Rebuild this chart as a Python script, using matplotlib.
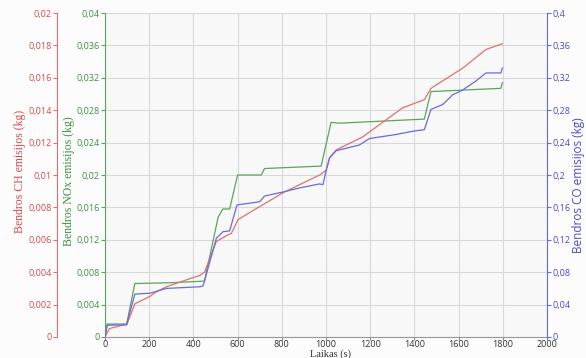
import matplotlib
matplotlib.use("Agg")
import matplotlib.pyplot as plt
from matplotlib.ticker import FixedLocator, FuncFormatter
import numpy as np

# Time axis (s) and cumulative emissions
nox_t = [0, 10, 98, 135, 300, 450, 512, 533, 564, 600, 707, 722, 978, 1023, 1061, 1445, 1475, 1791, 1798]
nox_v = [0, 0.0016, 0.0016, 0.0066, 0.0067, 0.0069, 0.0148, 0.0158, 0.0158, 0.0200, 0.0200, 0.0208, 0.0211, 0.0265, 0.0264, 0.0269, 0.0303, 0.0307, 0.0314]

ch_t = [0, 20, 100, 135, 203, 233, 278, 384, 429, 450, 504, 549, 572, 602, 700, 805, 880, 971, 1001, 1016, 1046, 1166, 1347, 1445, 1475, 1619, 1724, 1798]
ch_v = [0, 0.00052, 0.0008, 0.00205, 0.0025, 0.0028, 0.0031, 0.0036, 0.0038, 0.0040, 0.0059, 0.00625, 0.0064, 0.00725, 0.00805, 0.0089, 0.0094, 0.0100, 0.0103, 0.01105, 0.01155, 0.01235, 0.01415, 0.01465, 0.01535, 0.0166, 0.01775, 0.0181]

co_t = [0, 10, 98, 135, 203, 278, 429, 444, 504, 534, 564, 597, 700, 722, 805, 880, 971, 986, 1001, 1016, 1046, 1151, 1196, 1317, 1392, 1445, 1475, 1528, 1573, 1619, 1678, 1724, 1791, 1798]
co_v = [0, 0.0145, 0.0150, 0.053, 0.054, 0.060, 0.062, 0.063, 0.122, 0.130, 0.131, 0.163, 0.167, 0.174, 0.179, 0.184, 0.189, 0.188, 0.206, 0.221, 0.230, 0.237, 0.245, 0.250, 0.254, 0.256, 0.281, 0.287, 0.299, 0.305, 0.316, 0.326, 0.326, 0.332]

x_ticks = list(range(0, 2001, 200))
ch_ticks = [i * 0.002 for i in range(11)]
nox_ticks = [i * 0.004 for i in range(11)]
co_ticks = [i * 0.04 for i in range(11)]

RED = "#e07070"
RED_T = "#d44a4a"
GREEN = "#5aa55a"
GREEN_T = "#3f8f3f"
BLUE = "#6a6ae0"
BLUE_T = "#4a4ac8"

def comma_fmt(v, pos):
    s = ("%.3f" % v).rstrip("0").rstrip(".")
    if s == "":
        s = "0"
    return s.replace(".", ",")

fig = plt.figure(figsize=(5.86, 3.58), dpi=100)
fig.patch.set_facecolor("#fcfcfc")
W, H = 586, 358
ax = fig.add_axes([105 / W, (H - 337) / H, 442 / W, 324 / H])
ax.set_facecolor("#f8f8f8")

# NOx on main axis
ax.plot(nox_t, nox_v, color=GREEN, lw=0.9, zorder=3)
ax.set_xlim(0, 2000)
ax.set_ylim(0, 0.04)
ax.xaxis.set_major_locator(FixedLocator(x_ticks))
ax.yaxis.set_major_locator(FixedLocator(nox_ticks))
ax.yaxis.set_major_formatter(FuncFormatter(comma_fmt))
ax.grid(True, color="#d8d8d8", lw=0.8)
ax.set_axisbelow(True)
for lab in ax.get_xticklabels():
    lab.set_fontfamily("Open Sans"); lab.set_fontsize(6.5); lab.set_color("#333333")
for lab in ax.get_yticklabels():
    lab.set_fontfamily("Open Sans"); lab.set_fontsize(6.5); lab.set_color(GREEN_T)
ax.tick_params(axis="y", colors=GREEN, length=3, width=0.8, pad=1, labelcolor=GREEN_T)
ax.tick_params(axis="x", colors="#888888", length=2, width=0.8, pad=0.5, labelcolor="#333333")
ax.spines["left"].set_color(GREEN)
ax.spines["bottom"].set_color("#999999")
ax.spines["top"].set_visible(False)
ax.spines["right"].set_visible(False)
ax.set_ylabel("Bendros NOx emisijos (kg)", family="Liberation Serif", size=8.5, color=GREEN_T)
ax.yaxis.set_label_coords((75 - 105) / 442, 0.48)
ax.set_xlabel("Laikas (s)", family="Liberation Serif", size=7.5, color="#333333")
ax.xaxis.set_label_coords((331 - 105) / 442, -0.037)

# CH on offset left axis
ax_ch = ax.twinx()
ax_ch.spines["left"].set_position(("axes", (57 - 105) / 442))
ax_ch.spines["left"].set_visible(True)
ax_ch.spines["left"].set_color(RED)
ax_ch.spines["right"].set_visible(False)
ax_ch.spines["top"].set_visible(False)
ax_ch.spines["bottom"].set_visible(False)
ax_ch.yaxis.set_ticks_position("left")
ax_ch.yaxis.set_label_position("left")
ax_ch.set_ylim(0, 0.02)
ax_ch.yaxis.set_major_locator(FixedLocator(ch_ticks))
ax_ch.yaxis.set_major_formatter(FuncFormatter(comma_fmt))
ax_ch.tick_params(axis="y", colors=RED, length=3, width=0.8, pad=1, labelcolor=RED_T)
for lab in ax_ch.get_yticklabels():
    lab.set_fontfamily("Open Sans"); lab.set_fontsize(6.5)
ax_ch.plot(ch_t, ch_v, color=RED, lw=0.9, zorder=3)
ax_ch.set_ylabel("Bendros CH emisijos (kg)", family="Liberation Serif", size=8.5, color=RED_T)
ax_ch.yaxis.set_label_coords((26 - 105) / 442, 0.51)

# CO on right axis
ax_co = ax.twinx()
ax_co.spines["right"].set_color(BLUE)
ax_co.spines["left"].set_visible(False)
ax_co.spines["top"].set_visible(False)
ax_co.spines["bottom"].set_visible(False)
ax_co.set_ylim(0, 0.4)
ax_co.yaxis.set_major_locator(FixedLocator(co_ticks))
ax_co.yaxis.set_major_formatter(FuncFormatter(comma_fmt))
ax_co.tick_params(axis="y", colors=BLUE, length=3, width=0.8, pad=1, labelcolor=BLUE_T)
for lab in ax_co.get_yticklabels():
    lab.set_fontfamily("Open Sans"); lab.set_fontsize(6.5)
ax_co.plot(co_t, co_v, color=BLUE, lw=0.9, zorder=3)
ax_co.set_ylabel("Bendros CO emisijos (kg)", family="Open Sans", size=8.5, color=BLUE_T,
                 rotation=90, va="bottom")
ax_co.yaxis.set_label_coords((585 - 105) / 442, 0.47)

fig.savefig("out.png", dpi=100, facecolor=fig.get_facecolor())
